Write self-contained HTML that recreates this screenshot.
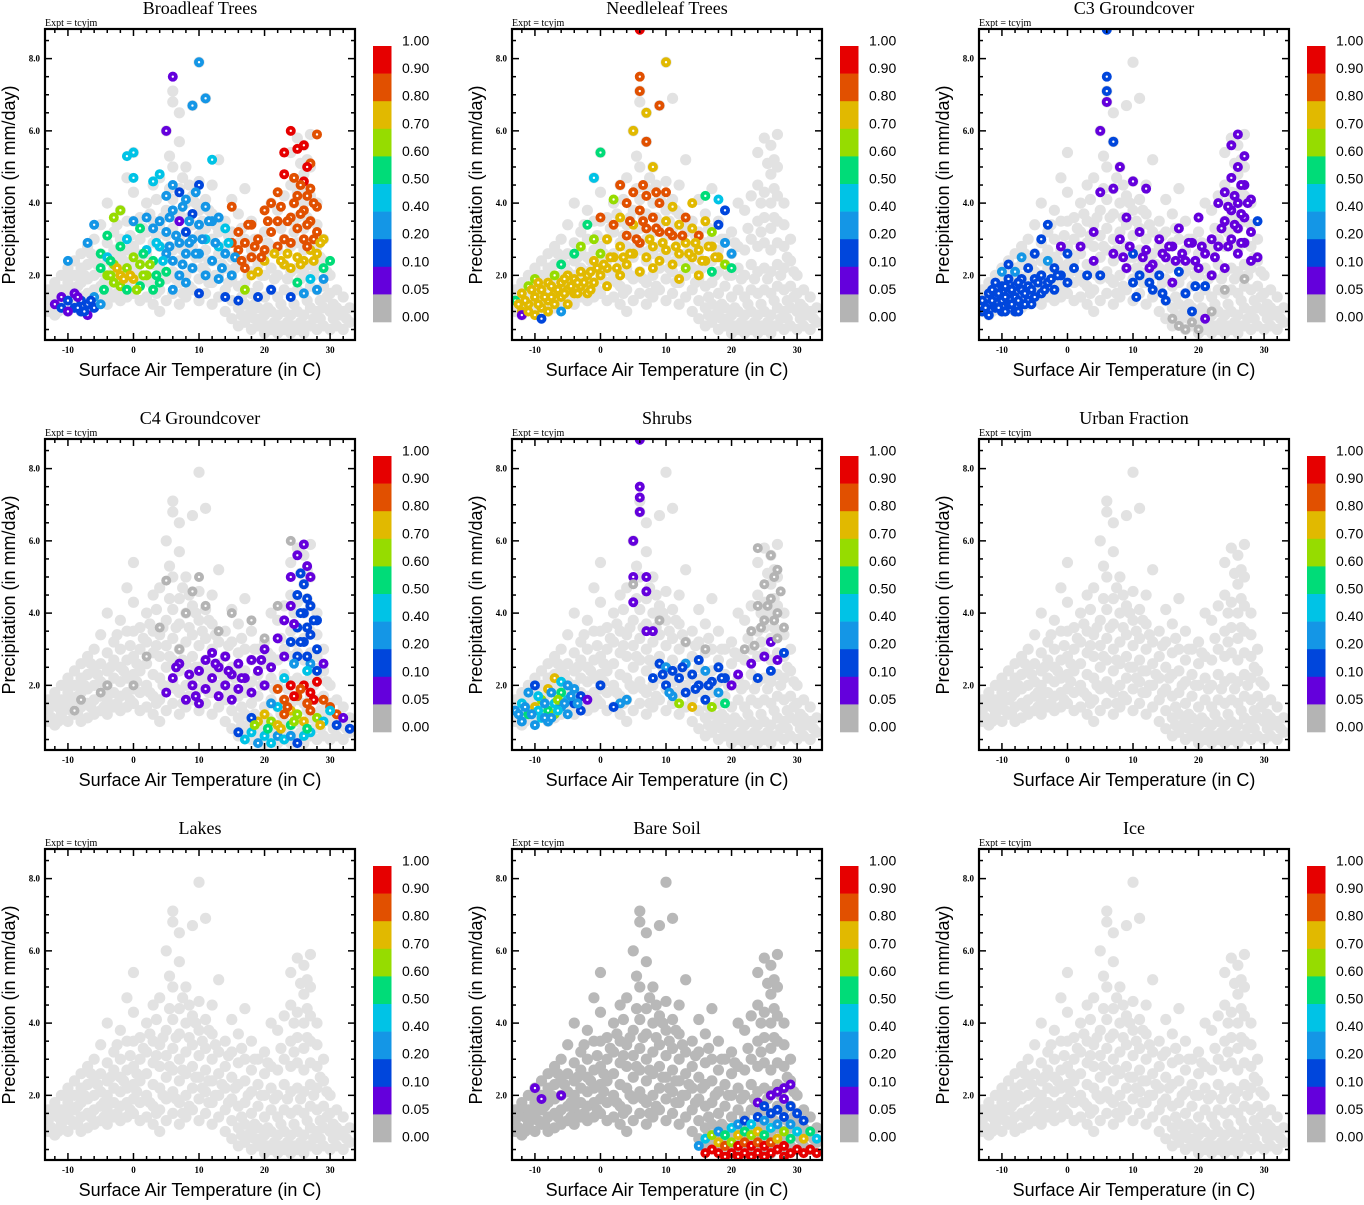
<!DOCTYPE html>
<html><head><meta charset="utf-8"><style>
html,body{margin:0;padding:0;background:#fff;}
svg text{font-family:"Liberation Sans",sans-serif;}
.serif{font-family:"Liberation Serif",serif;}
</style></head><body>
<svg id="root" width="1364" height="1200" viewBox="0 0 1364 1200" xmlns="http://www.w3.org/2000/svg"></svg>
<script>
const titles=["Broadleaf Trees","Needleleaf Trees","C3 Groundcover","C4 Groundcover","Shrubs","Urban Fraction","Lakes","Bare Soil","Ice"];
const bgColors=["#e2e2e2","#e2e2e2","#e2e2e2","#e2e2e2","#e2e2e2","#e2e2e2","#e2e2e2","#b8b8b8","#e2e2e2"];
const classColors=["#b4b4b4","#6400dc","#0046dc","#1496e6","#00c3e6","#00dc78","#96dc00","#e1b900","#e15000","#e60000"];
const cbLabels=["1.00","0.90","0.80","0.70","0.60","0.50","0.40","0.20","0.10","0.05","0.00"];
const xTicks=[-10,0,10,20,30];
const yTicks=[2.0,4.0,6.0,8.0];
const background="-13,1.3 -13,1.0 -12,1.5 -12,0.9 -12,1.8 -11,1.2 -11,1.6 -11,2.0 -10,1.0 -10,1.4 -10,1.8 -10,2.2 -9,1.2 -9,1.6 -9,2.0 -9,2.4 -8,1.0 -8,1.4 -8,1.8 -8,2.2 -8,2.6 -7,1.1 -7,1.5 -7,1.9 -7,2.3 -7,2.8 -6,1.2 -6,1.6 -6,2.0 -6,2.5 -6,3.0 -5,1.3 -5,1.7 -5,2.1 -5,2.6 -5,3.4 -4,1.2 -4,1.6 -4,2.0 -4,2.4 -4,2.9 -4,4.0 -3,1.4 -3,1.8 -3,2.2 -3,2.7 -3,3.2 -2,1.3 -2,1.7 -2,2.1 -2,2.5 -2,3.0 -2,3.8 -1,1.4 -1,1.8 -1,2.2 -1,2.7 -1,3.5 -1,4.7 0,1.5 0,1.9 0,2.3 0,2.8 0,3.5 0,4.3 0,5.4 1,1.3 1,1.8 1,2.4 1,3.0 1,3.6 2,1.4 2,2.0 2,2.6 2,3.2 2,4.0 3,1.2 3,1.7 3,2.3 3,2.9 3,3.5 3,4.5 4,1.0 4,1.6 4,2.2 4,2.8 4,3.4 4,4.7 5,1.3 5,1.9 5,2.5 5,3.1 5,3.8 5,6.0 6,1.5 6,2.1 6,2.7 6,3.3 6,4.1 6,5.0 6,7.1 6,6.8 7,1.2 7,1.8 7,2.4 7,3.0 7,3.7 7,4.4 7,5.7 7,6.5 8,1.4 8,2.0 8,2.6 8,3.2 8,4.0 8,5.0 9,1.6 9,2.2 9,2.8 9,3.4 9,4.2 9,6.7 10,1.3 10,1.9 10,2.5 10,3.1 10,3.8 10,4.6 10,7.9 11,1.5 11,2.1 11,2.7 11,3.3 11,4.1 11,6.9 12,1.2 12,1.8 12,2.4 12,3.0 12,3.7 12,4.5 13,1.4 13,2.0 13,2.6 13,3.2 13,5.2 14,1.0 14,1.6 14,2.2 14,2.8 14,3.5 15,0.8 15,1.3 15,1.9 15,2.5 15,3.2 15,4.1 16,0.6 16,1.1 16,1.7 16,2.3 16,2.9 16,3.7 17,0.7 17,1.2 17,1.8 17,2.4 17,3.0 17,4.4 18,0.5 18,1.0 18,1.5 18,2.1 18,2.7 18,3.5 19,0.6 19,1.1 19,1.7 19,2.3 19,3.0 20,0.4 20,0.9 20,1.4 20,2.0 20,2.6 20,3.2 21,0.5 21,1.0 21,1.6 21,2.2 21,2.8 21,4.0 22,0.4 22,0.9 22,1.4 22,2.0 22,2.7 22,3.8 23,0.5 23,1.0 23,1.6 23,2.3 23,3.0 23,4.2 24,0.4 24,0.9 24,1.5 24,2.1 24,2.8 24,3.5 24,4.5 24,5.4 25,0.5 25,1.0 25,1.6 25,2.2 25,2.9 25,3.6 25,4.3 25,5.8 26,0.4 26,0.9 26,1.5 26,2.1 26,2.7 26,3.3 26,4.0 26,4.8 26,5.6 27,0.6 27,1.1 27,1.7 27,2.3 27,2.9 27,3.5 27,4.2 27,5.0 27,5.9 28,0.5 28,1.0 28,1.6 28,2.2 28,2.8 28,3.4 28,4.0 29,0.6 29,1.1 29,1.7 29,2.4 29,3.0 30,0.5 30,1.0 30,1.5 30,2.0 31,0.6 31,1.1 31,1.6 32,0.5 32,1.0 32,1.4 33,0.7 33,1.1 -12.5,1.1 -11.5,1.4 -9.5,1.3 -8.5,1.7 -6.5,1.4 -4.5,1.8 -2.5,1.5 0.5,2.1 2.5,1.8 4.5,2.0 6.5,1.9 8.5,1.7 10.5,2.2 12.5,2.0 14.5,1.8 16.5,1.4 18.5,1.2 20.5,1.1 22.5,1.2 24.5,1.2 26.5,1.3 28.5,1.3 30.5,0.8 21.5,0.7 23.5,0.7 25.5,0.7 27.5,0.8 19.5,0.8 17.5,0.9 -10.5,1.6 -7.5,2.0 -5.5,2.3 -3.5,2.5 -1.5,2.4 0.5,2.6 1.5,3.3 3.5,3.1 5.5,2.8 7.5,2.7 9.5,2.5 11.5,2.4 13.5,2.3 15.5,2.2 17.5,2.0 19.5,2.0 21.5,1.9 23.5,1.9 25.5,1.9 27.5,2.0 29.5,1.4 31.5,0.9 -0.5,3.1 2.5,3.7 4.5,3.6 6.5,3.6 8.5,3.6 10.5,3.5 12.5,3.4 14.5,3.1 16.5,3.3 18.5,3.0 20.5,2.9 22.5,3.3 24.5,3.2 26.5,3.6 28.5,2.5 3.5,4.1 5.5,4.4 7.5,4.7 9.5,4.0 11.5,3.8 24.5,4.0 26.5,4.4 25.5,5.1 26.5,5.2 -12.5,1.6 -8.5,1.2 -4.5,1.4 -0.5,1.6 3.5,1.5 7.5,1.5 11.5,1.8 16.5,0.9 18.5,0.8 20.5,0.6 22.5,0.6 24.5,0.6 26.5,0.6 28.5,0.8 30.5,1.2 32.5,0.8 29.5,2.1 5.5,5.3 8.5,4.5 -2.5,3.4 -6.5,2.6 -9.5,2.0 -11.5,1.0 -13,1.6";
const series0="-12,1.2,1 -11,1.4,1 -10,1.3,2 -9,1.1,2 -9,1.5,1 -8,1.0,2 -8,1.3,2 -7,1.2,2 -7,0.9,1 -6,1.1,2 -6,1.4,3 -5,1.2,3 -10,2.4,3 -7,2.9,3 -6,3.4,3 -5,2.6,5 -5,2.2,5 -4,2.0,6 -4,3.1,5 -4,2.5,4 -3,1.8,6 -3,2.3,6 -3,3.6,6 -2,2.0,7 -2,1.7,6 -2,2.8,5 -2,3.8,6 -1,2.2,6 -1,1.6,5 -1,3.0,4 -1,5.3,4 0,1.9,7 0,2.5,6 0,3.5,3 0,4.7,4 0,5.4,4 1,2.3,6 1,1.7,5 1,3.3,5 2,2.0,6 2,2.7,4 2,3.6,3 3,1.6,5 3,2.4,5 3,3.3,3 3,4.6,4 4,1.8,5 4,2.8,4 4,3.5,3 4,4.8,4 5,2.1,5 5,2.6,3 5,3.2,3 5,4.2,3 5,6.0,1 6,1.6,3 6,2.4,3 6,3.8,3 6,4.5,3 6,7.5,1 7,2.0,3 7,2.9,3 7,3.5,1 7,4.3,2 8,1.8,3 8,2.6,3 8,3.2,2 8,4.1,3 9,2.2,3 9,3.0,3 9,3.7,2 9,6.7,3 10,1.5,2 10,2.6,3 10,3.4,3 10,4.5,2 10,7.9,3 11,2.0,3 11,3.0,4 11,3.9,3 11,6.9,3 12,2.4,3 12,3.5,3 12,5.2,4 13,1.9,3 13,2.8,4 13,3.6,3 14,1.4,2 14,2.6,3 14,3.3,4 15,2.0,3 15,2.9,8 15,3.9,8 16,1.3,2 16,2.7,8 16,3.2,8 17,2.2,8 17,2.9,8 17,1.6,6 18,2.5,8 18,3.4,8 18,2.0,7 19,2.1,7 19,3.0,8 19,1.4,2 20,2.7,8 20,3.8,8 20,2.4,7 21,3.2,8 21,4.0,8 21,1.6,2 22,2.8,8 22,3.5,8 22,4.3,8 23,2.3,7 23,3.0,8 23,4.8,9 23,5.4,9 24,2.2,7 24,2.9,8 24,3.6,8 24,6.0,9 24,1.4,2 25,2.5,7 25,3.3,8 25,4.2,8 25,5.5,9 25,1.8,5 26,2.4,7 26,3.0,8 26,3.8,8 26,4.6,9 26,5.6,9 26,1.5,3 27,2.7,7 27,3.5,8 27,4.4,8 27,5.1,8 27,1.9,4 28,2.6,7 28,3.2,8 28,3.9,8 28,5.9,8 28,1.6,3 29,2.2,5 29,3.0,7 29,1.9,3 30,2.4,5 26.5,4.2,8 25.5,3.7,8 27.5,3.0,8 26.5,2.8,8 -8.5,1.1,2 -3.5,2.0,6 -1.5,1.9,7 1.5,2.0,6 8.5,2.9,3 11.5,3.5,3 -11,1.1,2 -10,1.0,1 -7.5,1.0,2 -6.5,1.3,2 -4.5,1.6,5 -3.5,2.4,5 -2.5,2.2,7 -0.5,2.0,7 0.5,1.6,6 1.5,2.6,5 2.5,2.3,6 3.5,2.0,5 4.5,2.4,4 5.5,2.8,3 6.5,3.1,3 7.5,2.3,3 8.5,3.5,3 9.5,2.6,3 10.5,3.0,3 12.5,2.9,3 13.5,2.2,3 14.5,2.9,4 15.5,2.5,3 16.5,2.4,8 17.5,3.4,8 18.5,2.8,8 19.5,2.5,8 20.5,3.5,8 21.5,2.6,7 22.5,3.9,8 23.5,3.5,8 24.5,4.0,8 24.5,4.7,8 25.5,4.5,8 25.5,2.3,7 26.5,3.4,8 26.5,5.0,9 27.5,4.0,8 27.5,2.4,7 28.5,2.9,7 23.5,2.6,7 22.5,2.4,7 5.5,3.6,3 7.5,3.9,3 9.5,4.3,3 3.5,2.9,4 -8.5,1.4,1";
const series1="-13,1.3,5 -12,1.0,7 -12,1.5,7 -11,1.2,7 -11,1.7,6 -10,0.9,7 -10,1.4,7 -10,1.9,6 -9,1.1,7 -9,1.6,7 -8,1.3,7 -8,1.8,7 -8,1.0,7 -7,1.5,7 -7,2.0,6 -7,1.2,7 -6,1.4,7 -6,1.8,7 -6,2.3,5 -5,1.2,7 -5,1.6,7 -5,2.0,7 -4,1.5,7 -4,1.9,7 -4,2.6,5 -3,1.7,7 -3,2.1,7 -3,2.8,6 -2,1.5,7 -2,2.0,7 -2,3.4,5 -1,1.8,7 -1,2.4,7 -1,3.0,6 -1,4.7,4 0,2.0,7 0,2.6,6 0,5.4,5 0,3.6,8 1,2.2,7 1,3.0,7 1,1.7,7 2,2.5,7 2,3.4,8 2,4.1,6 3,2.0,7 3,2.8,7 3,3.6,7 3,4.5,8 4,2.3,7 4,3.1,8 4,4.0,8 5,2.6,7 5,3.4,7 5,4.3,8 5,6.0,7 6,2.1,7 6,2.9,8 6,3.8,8 6,7.5,8 6,8.8,9 6,7.1,8 7,2.5,7 7,3.3,8 7,4.2,8 7,6.5,7 7,5.7,8 8,2.8,7 8,3.6,8 8,2.2,7 8,5.0,7 9,2.4,7 9,3.2,8 9,4.0,8 9,6.7,8 10,2.7,7 10,3.5,7 10,7.9,7 10,4.3,8 11,2.3,7 11,3.1,8 11,3.9,7 12,2.6,7 12,3.4,7 12,1.9,7 13,2.9,7 13,3.6,8 13,2.2,6 14,2.5,7 14,3.3,7 14,4.0,7 15,2.7,7 15,3.1,8 15,2.0,7 16,2.4,7 16,3.5,7 16,4.2,5 17,2.8,7 17,3.2,6 17,2.1,5 18,2.5,7 18,3.4,2 18,4.1,4 19,2.9,3 19,2.3,6 19,3.8,2 20,2.6,3 20,2.2,5 -12,0.9,1 -9,0.8,2 -6,1.0,3 -11.5,1.3,7 -9.5,1.2,7 -7.5,1.4,7 -5.5,1.5,7 -3.5,1.8,7 -1.5,2.1,7 0.5,2.3,7 2.5,2.2,7 4.5,2.6,7 -12.5,1.2,7 -11,1.0,7 -10.5,1.6,7 -9.5,1.8,7 -8.5,1.4,7 -7.5,1.7,7 -6.5,1.6,7 -5.5,1.9,7 -4.5,1.7,7 -3.5,1.5,7 -2.5,1.8,7 -1.5,1.6,7 -0.5,2.2,7 1.5,2.5,7 3.5,2.5,7 5.5,3.0,8 6.5,3.5,8 7.5,3.0,7 8.5,3.3,8 9.5,2.9,7 10.5,3.2,8 11.5,2.8,7 12.5,3.1,8 13.5,2.6,7 14.5,2.9,7 15.5,2.4,7 16.5,2.8,7 17.5,2.5,7 6.5,4.5,8 8.5,4.3,8 4.5,3.5,8";
const series2="-13,1.3,2 -13,1.0,2 -12,1.5,2 -12,0.9,2 -12,1.2,2 -11,1.1,2 -11,1.4,2 -11,1.8,2 -10,1.0,2 -10,1.3,2 -10,1.7,2 -10,2.1,3 -9,1.2,2 -9,1.5,2 -9,1.9,2 -9,2.3,2 -8,1.0,2 -8,1.4,2 -8,1.7,2 -8,2.1,3 -7,1.2,2 -7,1.6,2 -7,1.9,2 -7,2.5,3 -6,1.3,2 -6,1.7,2 -6,2.2,2 -5,1.4,2 -5,1.9,2 -5,2.6,2 -4,1.5,2 -4,2.0,2 -4,3.0,2 -3,1.8,2 -3,2.4,3 -3,3.4,2 -2,2.2,2 -2,1.6,2 -1,2.8,1 -1,2.0,2 0,1.8,2 0,2.6,2 1,2.2,2 2,2.8,1 3,2.0,2 4,3.2,1 4,2.4,1 5,4.3,1 5,2.0,2 6,7.5,2 6,7.1,2 6,6.8,1 5,6.0,1 7,5.7,2 7,4.4,1 7,2.6,1 8,5.0,1 8,3.0,1 9,2.2,1 9,3.6,1 10,4.6,1 10,2.6,2 10,1.8,2 11,3.2,1 11,2.0,2 12,2.7,1 12,4.4,1 13,2.3,1 13,1.6,2 14,3.0,1 14,2.0,2 15,2.5,1 15,1.3,2 16,1.8,1 16,2.8,1 17,3.3,1 17,2.1,2 18,2.4,1 18,1.5,2 19,2.9,1 19,1.0,2 20,2.2,1 20,3.6,1 21,2.6,1 21,1.7,2 22,2.0,1 22,3.0,1 23,2.8,1 23,4.0,1 24,3.5,1 24,4.3,1 24,2.2,1 25,3.0,1 25,3.8,1 25,4.7,1 25,5.6,1 26,3.3,1 26,4.0,1 26,5.0,1 26,5.9,1 26,2.6,1 27,3.6,1 27,4.5,1 27,2.9,1 27,5.3,1 28,3.2,1 28,4.1,1 28,2.4,1 29,2.5,1 29,3.5,2 21,0.8,1 17,0.6,0 18,0.5,0 19,0.7,0 20,0.5,0 16,0.8,0 6,8.8,2 -11.5,1.6,2 -9.5,1.0,2 -7.5,1.3,2 -5.5,1.2,2 -8.5,1.2,2 -6.5,1.5,2 26.5,4.5,1 25.5,4.2,1 22,1.0,0 24,1.6,0 27,1.9,0 -12.5,1.1,2 -11.5,1.3,2 -10.5,1.5,2 -9.5,1.4,2 -8.5,1.6,2 -7.5,1.8,2 -6.5,1.2,2 -5.5,1.6,2 -4.5,1.8,2 -3.5,1.6,2 -2.5,1.9,2 -1.5,2.0,2 -10.5,1.1,2 -9.5,1.7,2 -7.5,1.0,2 8.5,2.5,1 9.5,2.8,1 11.5,2.5,1 12.5,2.2,1 14.5,2.6,1 15.5,2.8,1 16.5,2.4,1 17.5,2.6,1 18.5,2.9,1 19.5,2.4,1 20.5,2.8,1 22.5,2.5,1 23.5,3.3,1 24.5,3.9,1 25.5,3.4,1 26.5,3.7,1 27.5,4.0,1 24.5,2.8,1 26.5,2.9,1 10.5,1.4,2 12.5,1.8,2 14.5,1.5,2 19.5,1.7,2";
const series3="-9,1.3,0 -8,1.6,0 -5,1.8,0 -4,2.0,0 0,2.0,0 2,2.8,0 4,3.6,0 5,4.9,0 7,3.0,0 8,4.0,0 9,4.6,0 10,5.0,0 11,4.2,0 13,3.5,0 15,4.0,0 18,3.8,0 20,3.3,0 22,4.2,0 24,6.0,0 5,1.8,1 6,2.2,1 7,2.6,1 8,1.6,1 9,2.0,1 10,2.4,1 10,1.5,1 11,2.7,1 11,1.9,1 12,2.2,1 12,2.9,1 13,1.7,1 13,2.5,1 14,2.0,1 14,2.8,1 15,2.3,1 15,1.6,1 16,2.6,1 16,1.9,1 17,2.2,1 18,1.8,1 18,2.7,1 19,2.4,1 20,2.0,1 20,3.0,1 21,2.5,1 22,3.3,1 23,2.8,1 23,3.8,1 24,3.2,2 24,4.2,1 24,5.0,1 25,2.8,2 25,3.6,2 25,4.5,2 25,5.6,1 26,3.2,2 26,4.0,2 26,4.8,2 26,5.9,1 27,3.4,2 27,4.2,2 27,2.6,3 27,5.0,1 28,3.0,2 28,3.8,2 28,2.4,2 29,2.6,1 22,1.9,8 23,1.6,8 24,2.0,9 25,1.7,8 26,2.0,9 27,1.8,9 28,2.1,9 29,1.6,8 30,1.4,8 31,1.2,8 22,1.4,4 23,2.2,4 24,1.3,7 20,1.2,7 19,1.0,7 21,1.0,6 22,0.9,7 23,1.2,8 24,0.9,5 25,1.2,6 26,1.0,7 27,1.3,8 28,1.1,6 29,1.0,4 30,1.3,4 31,0.9,2 32,1.1,1 33,0.8,2 17,0.5,4 18,0.7,4 19,0.4,3 20,0.6,4 21,0.4,4 22,0.6,3 23,0.5,4 24,0.6,3 25,0.4,2 26,0.6,4 16,0.7,2 18,1.1,2 21,1.5,3 27,0.7,4 25.5,3.2,2 26.5,3.6,2 26.5,4.4,2 25.5,4.0,2 26.5,2.8,2 24.5,3.7,1 27.5,3.8,2 25.5,5.1,2 26.5,5.3,1 24.5,2.6,3 26.5,2.4,4 23.5,1.4,8 25.5,1.9,8 27.5,1.6,9 26.5,1.5,8 24.5,1.7,9 20.5,0.8,5 22.5,0.8,7 24.5,1.0,6 26.5,0.8,5 28.5,0.9,7 18.5,0.9,6 6.5,2.5,1 8.5,2.3,1 9.5,1.7,1 12.5,2.6,1 14.5,2.4,1 16.5,2.2,1 19.5,2.7,1";
const series4="-13,1.3,3 -12,1.0,3 -12,1.5,4 -11,1.2,5 -11,1.8,3 -10,0.9,3 -10,1.4,7 -10,2.0,2 -9,1.1,4 -9,1.6,6 -8,1.3,5 -8,1.9,7 -8,1.0,3 -7,1.5,4 -7,2.2,7 -7,1.2,6 -6,1.4,3 -6,1.8,5 -6,2.1,4 -5,1.2,3 -5,1.6,4 -5,2.0,3 -4,1.5,2 -4,1.9,3 -3,1.7,2 -3,1.3,2 -2,1.6,1 0,2.0,2 5,4.3,1 5,6.0,1 5,5.0,1 6,7.2,1 6,7.5,1 6,6.8,1 6,8.8,1 7,5.0,1 7,4.6,1 8,3.5,1 7,3.5,1 8,2.2,2 9,2.6,2 10,2.0,2 10,2.5,3 11,1.7,3 11,2.4,2 12,2.2,2 12,1.5,6 13,2.6,3 13,1.8,2 14,2.3,2 14,1.4,7 15,2.0,2 15,2.7,2 16,1.6,2 16,2.4,3 17,2.1,2 17,1.4,6 18,2.5,2 18,1.8,3 19,1.5,5 19,2.2,2 20,2.0,1 21,2.3,1 23,2.6,1 24,2.2,2 25,2.8,1 26,2.4,2 27,2.7,1 28,2.9,2 26,3.2,1 3,1.5,3 4,1.6,3 2,1.4,2 22,3.0,0 23,3.5,0 24,4.2,0 25,4.8,0 25,3.8,0 26,5.6,0 26,4.4,0 27,4.0,0 27,5.2,0 27,3.3,0 28,3.6,0 24,5.8,0 5,4.8,0 9,3.8,0 13,3.2,0 16,3.0,0 -11.5,1.4,3 -9.5,1.3,4 -7.5,1.1,3 -6.5,1.6,6 -8.5,1.5,3 -12.5,1.2,3 -10.5,1.2,3 -9.5,1.7,4 -8.5,1.1,3 -7.5,1.8,3 -6.5,1.3,4 -5.5,1.5,3 -4.5,1.7,3 -3.5,1.5,3 10.5,1.8,3 12.5,2.5,2 14.5,1.9,2 16.5,2.0,2 18.5,2.2,2 9.5,2.3,2 25.5,4.2,0 26.5,5.0,0 24.5,3.6,0 26.5,3.8,0 27.5,4.6,0 23.5,3.1,0";
const series7="15,0.6,3 16,0.8,4 16,0.4,9 17,0.5,9 17,0.9,6 18,0.4,9 18,0.7,7 18,1.0,3 19,0.3,9 19,0.6,8 19,0.9,5 20,0.4,9 20,0.7,6 20,1.1,4 21,0.3,9 21,0.6,9 21,0.9,7 21,1.2,3 22,0.4,9 22,0.7,8 22,1.0,5 22,1.3,2 23,0.3,9 23,0.6,9 23,0.9,6 23,1.2,4 24,0.4,9 24,0.7,8 24,1.0,7 24,1.4,2 24,1.8,1 25,0.3,9 25,0.6,9 25,0.9,5 25,1.3,3 25,1.7,2 26,0.4,9 26,0.7,8 26,1.1,4 26,1.5,2 26,2.0,1 27,0.5,9 27,0.8,7 27,1.2,3 27,1.6,2 27,2.1,1 28,0.3,9 28,0.6,9 28,1.0,6 28,1.4,2 28,1.9,1 28,2.2,1 29,0.4,9 29,0.8,5 29,1.2,3 29,1.7,2 29,2.3,1 30,0.5,9 30,1.0,4 30,1.5,2 31,0.4,9 31,0.8,7 31,1.3,2 32,0.5,9 32,1.0,5 33,0.4,9 33,0.8,4 -10,2.2,1 -9,1.9,1 -6,2.0,1";
const panelSeries=[series0,series1,series2,series3,series4,"","",series7,""];

const NS="http://www.w3.org/2000/svg";
const root=document.getElementById('root');
function mk(tag,attrs,parent){const e=document.createElementNS(NS,tag);for(const k in attrs)e.setAttribute(k,attrs[k]);parent.appendChild(e);return e;}
const FX0=45,FX1=355,FY0=29,FY1=340,TMIN=-13.5,TMAX=33.8,PMIN=0.21,PMAX=8.82;
function xs(t){return FX0+(t-TMIN)/(TMAX-TMIN)*(FX1-FX0);}
function ys(p){return FY1-(p-PMIN)/(PMAX-PMIN)*(FY1-FY0);}
function parse(s){return s.trim()?s.trim().split(/\s+/).map(q=>q.split(',').map(Number)):[];}
const bgPts=parse(background);

for(let i=0;i<9;i++){
  const ox=(i%3)*467, oy=Math.floor(i/3)*410;
  const g=mk('g',{transform:`translate(${ox},${oy})`},root);
  
  
  const t=mk('text',{x:200,y:14,'text-anchor':'middle','font-size':18,class:'serif'},g);t.textContent=titles[i];
  
  
  const ex=mk('text',{x:45,y:26,'font-size':10,class:'serif'},g);ex.textContent='Expt = tcyjm';
  
  
  const clip='clip'+i;
  const cp=mk('clipPath',{id:clip},g);mk('rect',{x:FX0,y:FY0,width:FX1-FX0,height:FY1-FY0},cp);
  const pts=mk('g',{'clip-path':`url(#${clip})`},g);
  
  
  for(const p of bgPts){
    const c=mk('circle',{cx:xs(p[0]),cy:ys(p[1]),r:5.6,fill:bgColors[i]},pts);
    
    
  }
  for(const p of parse(panelSeries[i])){
    const c=mk('circle',{cx:xs(p[0]),cy:ys(p[1]),r:3.1,fill:'#fff',stroke:classColors[p[2]],'stroke-width':3.8},pts);
    
    
  }
  for(let v=-12;v<=32;v+=2){
    const major=v%10===0, L=major?7:4, x=xs(v);
    mk('line',{x1:x,x2:x,y1:FY1,y2:FY1-L,stroke:'#000','stroke-width':1.5},g);
    mk('line',{x1:x,x2:x,y1:FY0,y2:FY0+L,stroke:'#000','stroke-width':1.5},g);
  }
  for(let v=0.5;v<=8.5;v+=0.5){
    const major=Math.abs(v%2)<1e-6, L=major?7:4, y=ys(v);
    mk('line',{x1:FX0,x2:FX0+L,y1:y,y2:y,stroke:'#000','stroke-width':1.5},g);
    mk('line',{x1:FX1,x2:FX1-L,y1:y,y2:y,stroke:'#000','stroke-width':1.5},g);
  }
  const fr=mk('rect',{x:FX0,y:FY0,width:FX1-FX0,height:FY1-FY0,fill:'none',stroke:'#000','stroke-width':2.2},g);
  
  
  for(const v of xTicks){
    const tx=mk('text',{x:xs(v),y:353,'text-anchor':'middle','font-size':9,'font-weight':'bold',class:'serif'},g);tx.textContent=v;
    
    
  }
  for(const v of yTicks){
    const ty=mk('text',{x:40,y:ys(v)+3,'text-anchor':'end','font-size':9,'font-weight':'bold',class:'serif'},g);ty.textContent=v.toFixed(1);
    
    
  }
  const xt=mk('text',{x:200,y:376,'text-anchor':'middle','font-size':18},g);xt.textContent='Surface Air Temperature (in C)';
  
  
  const yt=mk('text',{x:0,y:0,'text-anchor':'middle','font-size':18,transform:'translate(15,185) rotate(-90)'},g);yt.textContent='Precipitation (in mm/day)';
  
  
  const cb=mk('g',{},g);
  
  
  const top=46,h=27.6;
  for(let k=0;k<10;k++){
    const r=mk('rect',{x:373,y:top+k*h,width:18.5,height:h+0.3,fill:classColors[9-k]},cb);
    
    
  }
  cbLabels.forEach((lab,k)=>{
    const tl=mk('text',{x:402,y:top+k*h-0.5,'font-size':14},cb);tl.textContent=lab;
    
    
  });
}
</script>
</body></html>
